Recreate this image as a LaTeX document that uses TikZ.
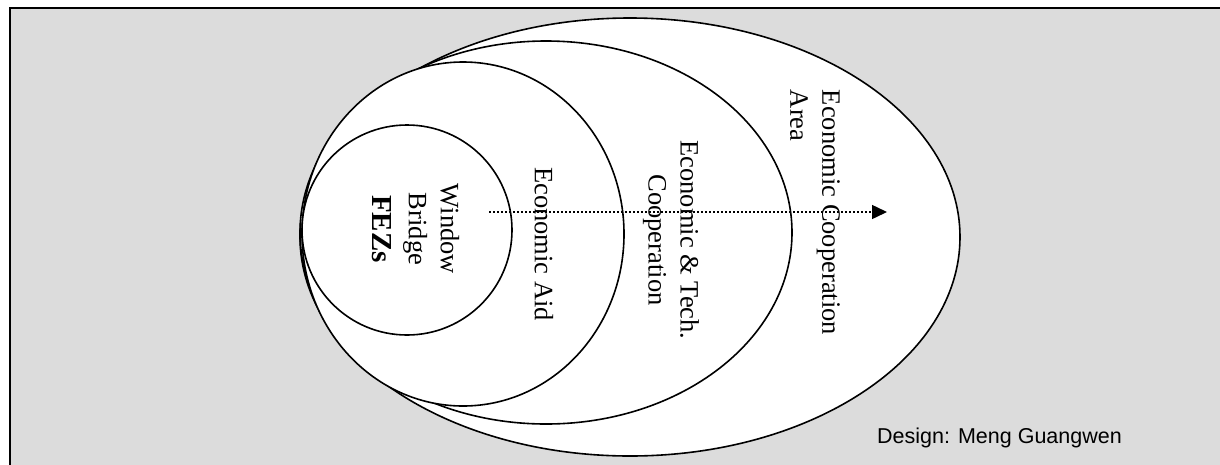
\documentclass[tikz,border=0pt]{standalone}
\usepackage{fontspec}
\setmainfont{Liberation Serif}
\newfontfamily\captionfont{Liberation Sans}
\usetikzlibrary{arrows.meta}
\definecolor{panelgray}{RGB}{220,220,220}
\begin{document}
\begin{tikzpicture}[x=1pt,y=-1pt,
  ring/.style={draw=black, fill=white, line width=1.6pt},
  vlabel/.style={rotate=-90, inner sep=0pt, font=\fontsize{26.5}{32}\selectfont},
  flow/.style={line width=1.5pt, dash pattern=on 1.5pt off 2.5pt,
               -{Triangle[length=15pt,width=14pt]}}
]
\useasboundingbox (0,0) rectangle (1220,464);
% grey panel with its frame
\draw[fill=panelgray, line width=2pt] (10,8) rectangle (1240,490);

% nested zones, outermost first
\draw[ring] (630,237) ellipse [x radius=330, y radius=219];
\draw[ring] (546,232.5) ellipse [x radius=246, y radius=191.5];
\draw[ring] (463,234) ellipse [x radius=161, y radius=172];
\draw[ring] (407,230) circle [radius=105];

% direction of expansion
\coordinate (flowstart) at (489,212);
\coordinate (flowend) at (887,212);
\draw[flow] (flowstart) -- (flowend);

% zone labels
\node[vlabel, align=center] (fez) at (416,229)
  {Window\\Bridge\\[4pt]{\fontsize{29}{32}\selectfont\bfseries FEZs}};
\node[vlabel] (aid) at (544,244) {Economic Aid};
\node[vlabel, align=center] (tech) at (671,240) {Economic \& Tech.\\Cooperation};
\node[vlabel, align=left] (area) at (815,212.5) {Economic Cooperation\\Area};

% credit line
\node[font=\captionfont\fontsize{21.5}{24}\selectfont, anchor=base east, inner sep=0pt]
  (credit) at (1122,443) {Design: Meng Guangwen};
\end{tikzpicture}
\end{document}
